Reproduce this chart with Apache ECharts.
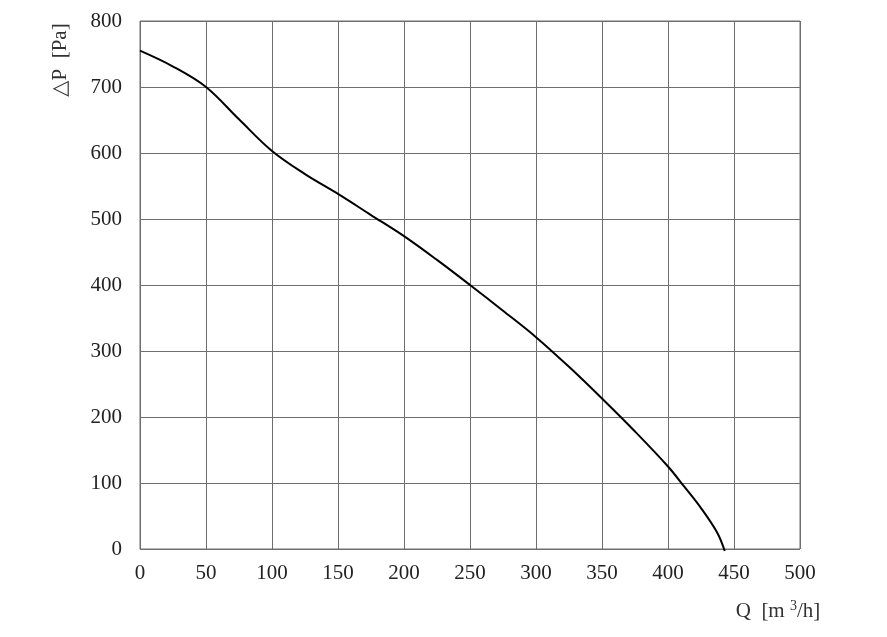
<!DOCTYPE html>
<html>
<head>
<meta charset="utf-8">
<script src="https://cdn.jsdelivr.net/npm/echarts@6/dist/echarts.min.js"></script>
<style>
  html, body { margin: 0; padding: 0; background: #fff; }
  #chart { width: 887px; height: 637px; }
</style>
</head>
<body>
<div id="chart"></div>
<script>
// fan curve
var flow = [0, 25, 50, 75, 100, 125, 150, 175, 200, 225, 250, 275, 300, 325, 350, 375, 400, 412.5, 425, 437.5, 443];
var pressure = [755, 731, 700, 651, 603, 568, 538, 506, 474, 438, 400, 361, 321, 276, 228, 178, 125, 94, 62, 24, -3];
var xTicks = [0, 500, 50];   // min, max, step
var yTicks = [0, 800, 100];

var chart = echarts.init(document.getElementById('chart'));
var serif = '"Liberation Serif", "DejaVu Serif", serif';
var gridColor = '#6e6e6e';

var points = flow.map(function (q, i) { return [q, pressure[i]]; });

chart.setOption({
    animation: false,
    grid: {
        left: 140, right: 87, top: 21, bottom: 88,
        show: true,
        borderColor: gridColor,
        borderWidth: 1
    },
    xAxis: {
        type: 'value',
        min: xTicks[0], max: xTicks[1], interval: xTicks[2],
        axisLine: { show: false },
        axisTick: { show: false },
        axisLabel: { color: '#222', fontFamily: serif, fontSize: 21, margin: 14 },
        splitLine: { show: true, lineStyle: { color: gridColor, width: 1 } }
    },
    yAxis: {
        type: 'value',
        min: yTicks[0], max: yTicks[1], interval: yTicks[2],
        axisLine: { show: false },
        axisTick: { show: false },
        axisLabel: { color: '#222', fontFamily: serif, fontSize: 21, margin: 18, padding: [6, 0, 0, 0] },
        splitLine: { show: true, lineStyle: { color: gridColor, width: 1 } }
    },
    graphic: [
        {
            type: 'text',
            x: 60, y: 60,
            rotation: Math.PI / 2,
            style: {
                text: '△P  [Pa]',
                fill: '#333',
                font: '21px ' + serif,
                align: 'center',
                verticalAlign: 'middle'
            }
        },
        {
            type: 'text',
            x: 778, y: 611,
            style: {
                text: 'Q  [m {sup|3}/h]',
                fill: '#333',
                font: '21px ' + serif,
                align: 'center',
                verticalAlign: 'middle',
                rich: {
                    sup: { fontSize: 14, fontFamily: serif, fill: '#333', verticalAlign: 'top', padding: [0, 0, 10, 0] }
                }
            }
        }
    ],
    series: [{
        type: 'line',
        data: points,
        smooth: 0.35,
        symbol: 'none',
        clip: false,
        lineStyle: { color: '#000', width: 2 }
    }]
});
</script>
</body>
</html>
